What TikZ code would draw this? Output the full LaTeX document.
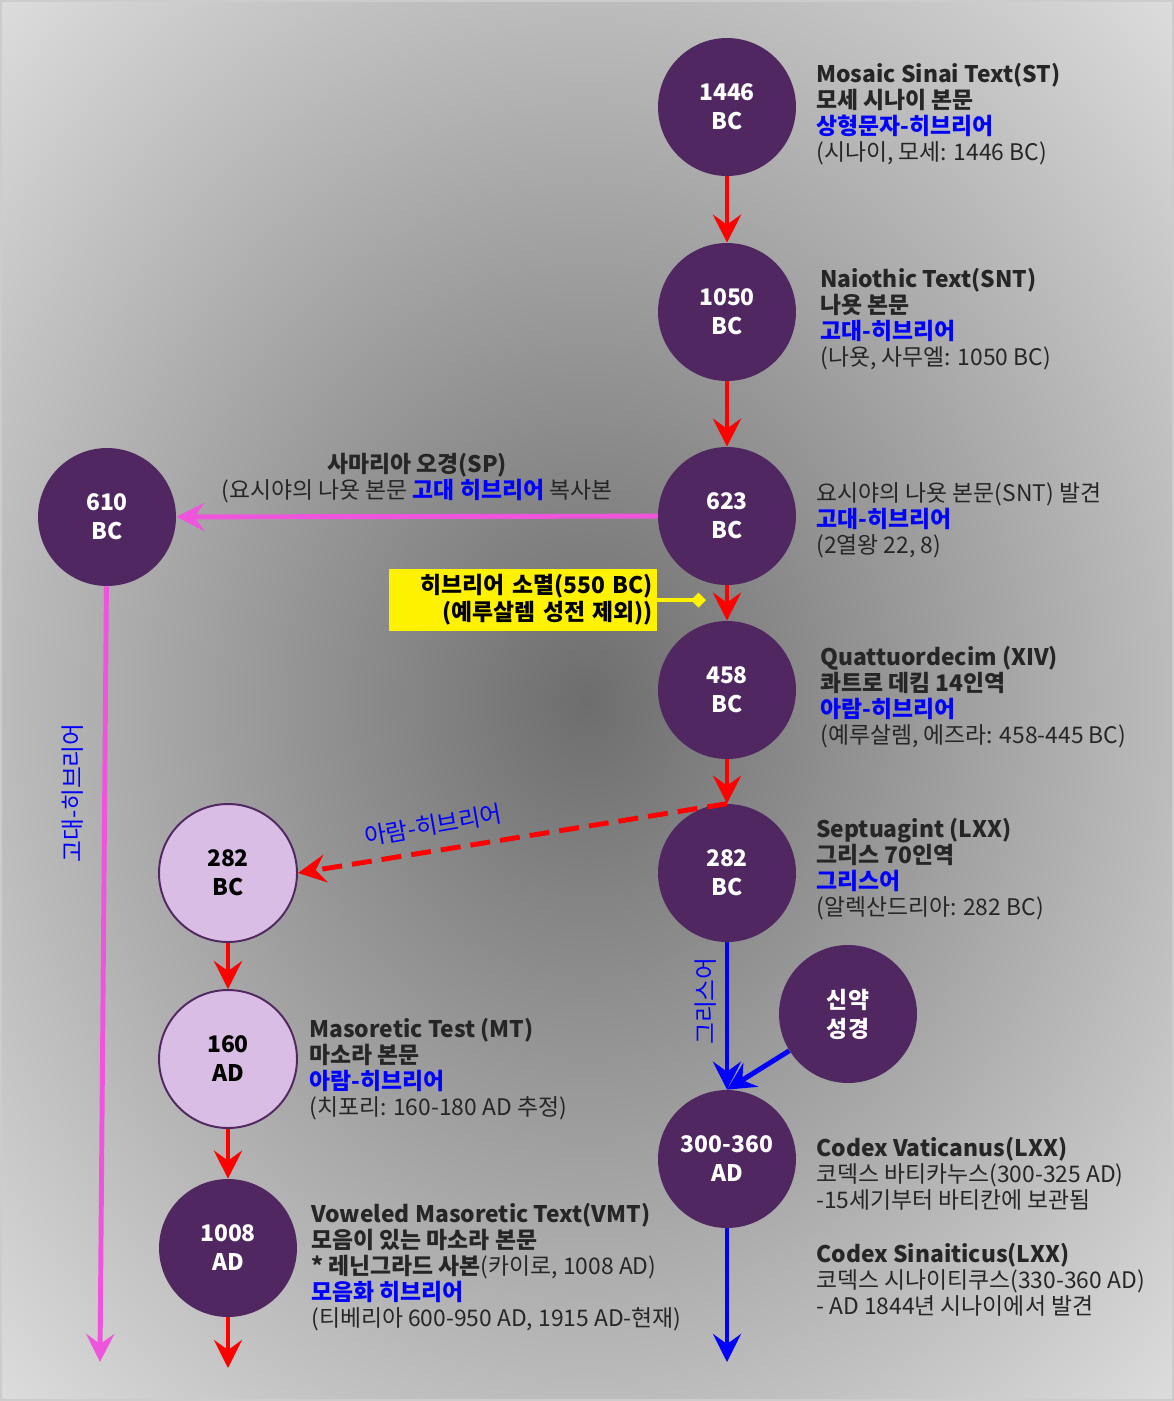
\documentclass[tikz,border=0pt]{standalone}
\usepackage{fontspec}
\setmainfont{Noto Sans CJK KR}
\usepackage{xcolor}
\usepackage{tikz}
\usetikzlibrary{positioning, arrows.meta, shadings}

\definecolor{eraPurple}{RGB}{80,39,96}
\definecolor{eraLight}{RGB}{217,189,228}
\definecolor{copyPink}{RGB}{238,85,220}
\definecolor{bgDark}{gray}{0.43}
\definecolor{bgLight}{gray}{0.86}
\pgfdeclareradialshading{backglow}{\pgfpoint{0bp}{0bp}}{color(0bp)=(bgDark); color(35bp)=(bgLight); color(50bp)=(bgLight)}

\newcommand{\tongue}[1]{\textcolor{blue}{\textbf{#1}}}

\begin{document}
\begin{tikzpicture}[x=0.02cm, y=-0.02cm,
  era/.style={circle, fill=eraPurple, text=white, minimum size=2.76cm, inner sep=0pt, align=center, font=\bfseries\fontsize{13}{16.5}\selectfont},
  lateera/.style={era, fill=eraLight, draw=eraPurple, line width=1.1pt, text=black},
  note/.style={anchor=west, inner sep=0pt, align=left, text=black!85, font=\fontsize{13}{14.7}\selectfont},
  tip/.style={-{Stealth[length=0.56cm, width=0.56cm, inset=0.2cm]}},
  redline/.style={tip, draw=red, line width=2.8pt},
  blueline/.style={tip, draw=blue, line width=2.8pt},
  pinkline/.style={tip, draw=copyPink, line width=2.8pt},
  tongueside/.style={text=blue, inner sep=0pt, font=\fontsize{13.5}{15}\selectfont}]

\useasboundingbox (0,0) rectangle (1174,1401);
\shade[shading=backglow] (0,0) rectangle (1174,1401);
\draw[gray!40, line width=1pt] (1,1) rectangle (1173,1400);

% main line
\node [era] (st) at (727,107) {1446\\BC};
\node [era] (snt) at (727,312) {1050\\BC};
\node [era] (jos) at (727,516) {623\\BC};
\node [era] (xiv) at (727,690) {458\\BC};
\node [era] (lxx) at (727,873) {282\\BC};
\node [era] (cod) at (727,1159) {300-360\\AD};
\node [era] (nt) at (848,1014) {신약\\성경};

% side lines
\node [era] (sam) at (107,517) {610\\BC};
\node [lateera] (aram) at (228,873) {282\\BC};
\node [lateera] (mt) at (228,1059) {160\\AD};
\node [era] (vmt) at (228,1248) {1008\\AD};

\coordinate (samend) at (100,1362);
\coordinate (vmtend) at (228,1368);
\coordinate (codend) at (727,1362);
\coordinate (lost) at (706,600);

\node [note] (stnote) at (816,114) {\textbf{Mosaic Sinai Text(ST)}\\\textbf{모세 시나이 본문}\\\tongue{상형문자-히브리어}\\(시나이, 모세: 1446 BC)};
\node [note] (sntnote) at (820,319) {\textbf{Naiothic Text(SNT)}\\\textbf{나욧 본문}\\\tongue{고대-히브리어}\\(나욧, 사무엘: 1050 BC)};
\node [note] (josnote) at (816,520) {요시야의 나욧 본문(SNT) 발견\\\tongue{고대-히브리어}\\(2열왕 22, 8)};
\node [note] (xivnote) at (820,697) {\textbf{Quattuordecim (XIV)}\\\textbf{콰트로 데킴 14인역}\\\tongue{아람-히브리어}\\(예루살렘, 에즈라: 458-445 BC)};
\node [note] (lxxnote) at (816,869) {\textbf{Septuagint (LXX)}\\\textbf{그리스 70인역}\\\tongue{그리스어}\\(알렉산드리아: 282 BC)};
\node [note] (mtnote) at (309,1069) {\textbf{Masoretic Test (MT)}\\\textbf{마소라 본문}\\\tongue{아람-히브리어}\\(치포리: 160-180 AD 추정)};
\node [note] (vmtnote) at (311,1267) {\textbf{Voweled Masoretic Text(VMT)}\\\textbf{모음이 있는 마소라 본문}\\\textbf{* 레닌그라드 사본}(카이로, 1008 AD)\\\tongue{모음화 히브리어}\\(티베리아 600-950 AD, 1915 AD-현재)};
\node [note] (vatnote) at (816,1174) {\textbf{Codex Vaticanus(LXX)}\\코덱스 바티카누스(300-325 AD)\\-15세기부터 바티칸에 보관됨};
\node [note] (sinnote) at (816,1280) {\textbf{Codex Sinaiticus(LXX)}\\코덱스 시나이티쿠스(330-360 AD)\\- AD 1844년 시나이에서 발견};

\node [fill=yellow, text width=5.2cm, inner xsep=0.08cm, minimum height=1.24cm, align=right, font=\bfseries\fontsize{13}{15.3}\selectfont] (extinct) at (523,600) {히브리어 소멸(550 BC)\\(예루살렘 성전 제외))};

\draw [redline] (st) -- (snt);
\draw [redline] (snt) -- (jos);
\draw [redline] (jos) -- (xiv);
\draw [redline] (xiv) -- (lxx);
\draw [redline, dash pattern=on 0.4cm off 0.2cm] (lxx.north) -- (aram.east);
\draw [redline] (aram) -- (mt);
\draw [redline] (mt) -- (vmt);
\draw [redline] (vmt) -- (vmtend);

\draw [pinkline] (jos) -- node[above=3pt, align=center, text=black!85, font=\fontsize{13}{14.7}\selectfont] {\textbf{사마리아 오경(SP)}\\(요시야의 나욧 본문 \tongue{고대 히브리어} 복사본} (sam);
\draw [pinkline] (sam) -- (samend);

\draw [blueline] (lxx) -- (cod.north);
\draw [blueline] (nt) -- (cod.north);
\draw [blueline] (cod) -- (codend);

\draw [draw=yellow, line width=2pt, -{Diamond[length=0.3cm, width=0.3cm]}] (extinct.east) -- (lost);

\node [tongueside, rotate=90] (oldtag) at (73,793) {고대-히브리어};
\node [tongueside, rotate=90] (greektag) at (706,1001) {그리스어};
\node [tongueside, rotate=10] (aramtag) at (433,825) {아람-히브리어};

\end{tikzpicture}
\end{document}
